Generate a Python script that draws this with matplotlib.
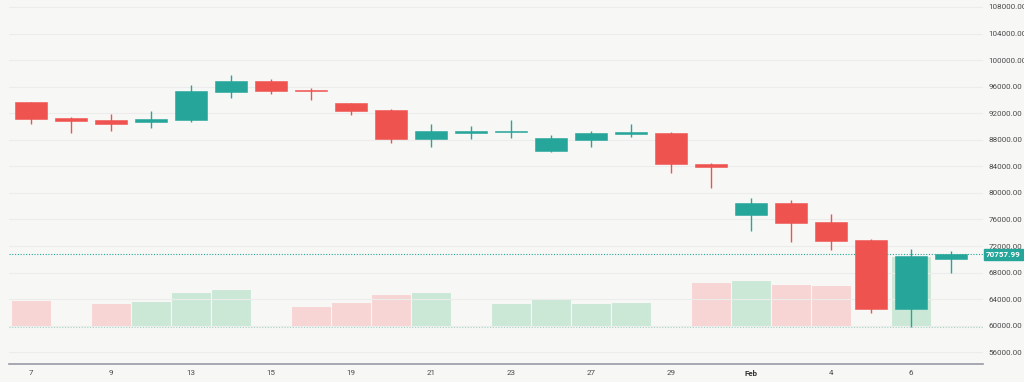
import numpy as np
import matplotlib
matplotlib.use('Agg')
from matplotlib import pyplot as plt

# daily candles
opens  = [93650, 91240, 90940, 90730, 91030, 95200, 96860, 95500, 93540, 92490, 88080, 89070,
          89220, 86310, 88020, 88920, 89070, 84360, 76630, 78530, 75580, 72870, 62470, 70000]
highs  = [93650, 91480, 91890, 92290, 96210, 97760, 97160, 95800, 93540, 92640, 90430, 90120,
          90980, 88720, 89330, 90430, 89220, 84550, 79240, 78980, 76780, 73060, 71560, 71250]
lows   = [90430, 88980, 89370, 89820, 90730, 94340, 94900, 93990, 91780, 87560, 86920, 88120,
          88320, 86160, 86960, 88470, 83000, 80740, 74310, 72610, 71410, 61960, 59760, 67990]
closes = [91090, 90830, 90340, 91130, 95300, 96860, 95400, 95300, 92380, 88080, 89280, 89330,
          89330, 88230, 89070, 89070, 84310, 83900, 78530, 75470, 72760, 62470, 70500, 70757.99]
volume = [27.3, 1.0, 24.3, 26.3, 34.7, 38.0, 1.0, 21.3, 25.0, 33.3, 35.3, 0.7,
          24.3, 28.7, 24.0, 25.0, 1.0, 45.0, 47.0, 43.0, 42.3, 2.0, 71.5, 0.5]
tick_labels = ['7', '9', '13', '15', '19', '21', '23', '27', '29', 'Feb', '4', '6']
last_price = 70757.99

up_col = '#26a69a'
dn_col = '#ef5350'
vol_up = '#cbe8d7'
vol_dn = '#f7d5d4'
bg = '#f7f8f6'

n = len(opens)
x = np.arange(n)
o = np.array(opens); c = np.array(closes); h = np.array(highs); l = np.array(lows)
up = c >= o

plt.rcParams['font.family'] = ['Roboto', 'DejaVu Sans']
fig = plt.figure(figsize=(10.24, 3.82), dpi=100, facecolor=bg)
ax = fig.add_axes([9/1024, 18/382, 974/1024, 364/382])
axv = ax.twinx()
ax.set_zorder(axv.get_zorder() + 1)
ax.patch.set_visible(False)
axv.patch.set_facecolor(bg)

# volume
axv.bar(x, volume, width=1.0, color=[vol_up if u else vol_dn for u in up],
        edgecolor=bg, linewidth=0.8)
axv.axhline(0, color='#9fd3c0', lw=0.8, ls=(0, (1, 1.5)))
axv.set_ylim(-37, 327)
axv.set_yticks([])
for s in axv.spines.values():
    s.set_visible(False)

# candles
ax.set_axisbelow(True)
cols = np.where(up, up_col, dn_col)
ax.vlines(x, l, h, colors=cols, lw=1, zorder=2)
body_b = np.minimum(o, c)
body_h = np.maximum(np.abs(c - o), 180)
ax.bar(x, body_h, bottom=body_b, width=0.8, color=cols, edgecolor=cols, linewidth=0.4, zorder=3)

ax.axhline(last_price, color=up_col, lw=0.8, ls=(0, (1, 1.5)), zorder=1.5)

ax.set_xlim(-0.55, 23.8)
ax.set_ylim(54236, 109054)
ax.set_yticks(np.arange(56000, 108001, 4000))
ax.yaxis.tick_right()
ax.set_yticklabels(['%.2f' % v for v in np.arange(56000, 108001, 4000)])
ax.grid(axis='y', color='#ececec', lw=0.8)
ax.set_xticks(x[::2])
ax.set_xticklabels(tick_labels)
ax.tick_params(length=0, labelsize=5.8, labelcolor='#4a4a4a', pad=4)
for lbl in ax.get_xticklabels():
    if lbl.get_text() == 'Feb':
        lbl.set_fontweight('bold')
        lbl.set_color('#333333')
for side in ['top', 'left', 'right']:
    ax.spines[side].set_visible(False)
ax.spines['bottom'].set_color('#9a9aa6')
ax.spines['bottom'].set_linewidth(1.2)

# last price tag
ax.annotate('%.2f' % last_price, xy=(1.0, last_price), xycoords=('axes fraction', 'data'),
            xytext=(2, 0), textcoords='offset points', va='center', ha='left',
            fontsize=5.8, color='white', fontweight='bold',
            bbox=dict(boxstyle='square,pad=0.25', fc=up_col, ec=up_col),
            annotation_clip=False)

fig.savefig('out.png', dpi=100, facecolor=bg)
